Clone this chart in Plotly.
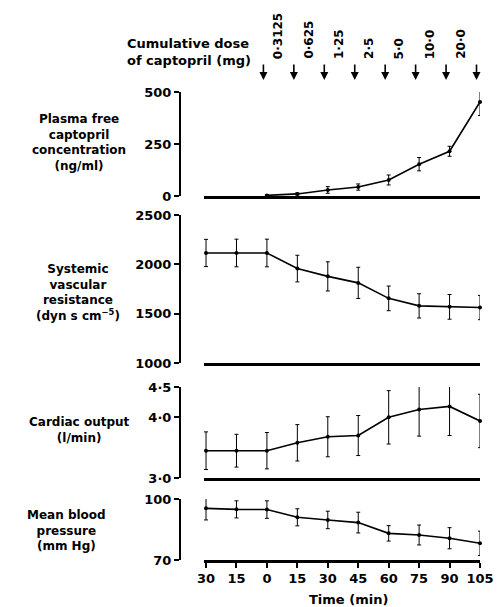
import plotly.graph_objects as go

W, H = 497, 607

# ---------------- data ----------------
time = [-30, -15, 0, 15, 30, 45, 60, 75, 90, 105]
time_labels = ["30", "15", "0", "15", "30", "45", "60", "75", "90", "105"]

capto_time = [0, 15, 30, 45, 60, 75, 90, 105]
capto = [3, 10, 29, 43, 77, 153, 215, 452]
capto_err = [3, 5, 16, 15, 24, 32, 24, 65]

svr = [2115, 2115, 2115, 1957, 1878, 1812, 1655, 1579, 1569, 1562]
svr_err = [138, 140, 140, 135, 148, 158, 125, 123, 125, 123]

co = [3.45, 3.45, 3.45, 3.58, 3.68, 3.70, 4.00, 4.13, 4.18, 3.94]
co_err = [0.31, 0.27, 0.30, 0.30, 0.33, 0.33, 0.44, 0.44, 0.48, 0.44]

mbp = [95.4, 94.9, 94.8, 91.0, 89.7, 88.4, 83.1, 82.3, 80.7, 78.2]
mbp_err = [5.7, 4.2, 4.3, 4.2, 4.3, 5.1, 3.8, 4.9, 5.2, 6.0]

dose_times = [0, 15, 30, 45, 60, 75, 90, 105]
dose_labels = ["0·3125", "0·625", "1·25", "2·5", "5·0", "10·0", "20·0"]
dose_label_times = [7.5, 22.5, 37.5, 52.5, 67.5, 82.5, 97.5]

# ---------------- helpers ----------------
def px(x):
    return x / W

def py(y):
    return (H - y) / H

FONT = "DejaVu Sans"
BOLD = dict(family=FONT, size=13, color="black", weight="bold")

fig = go.Figure()

panels = [
    ("y", "x2", capto_time, capto, capto_err),
    ("y2", "x3", time, svr, svr_err),
    ("y3", "x4", time, co, co_err),
    ("y4", "x", time, mbp, mbp_err),
]
for ya, xa, xs, ys, es in panels:
    fig.add_trace(go.Scatter(
        x=xs, y=ys, xaxis=xa, yaxis=ya, mode="lines+markers",
        line=dict(color="black", width=1.6),
        marker=dict(color="black", size=4),
        error_y=dict(type="data", array=es, visible=True, color="black",
                     thickness=1, width=2),
        cliponaxis=False, showlegend=False,
    ))

xdom = [px(204), px(480)]
xrange_ = [-31, 105]
yaxis_x = px(180)

common_y = dict(showgrid=False, zeroline=False, showline=True, linecolor="black",
                linewidth=2, ticks="outside", ticklen=5, tickwidth=2,
                tickcolor="black", tickfont=BOLD, anchor="free",
                position=yaxis_x, fixedrange=True, automargin=False)

layout = dict(
    template="none",
    width=W, height=H,
    margin=dict(l=0, r=0, t=0, b=0, autoexpand=False),
    paper_bgcolor="white", plot_bgcolor="white",
    font=BOLD, showlegend=False,
    xaxis=dict(domain=xdom, range=xrange_, anchor="y4", automargin=False,
               showgrid=False, zeroline=False, showline=True, linecolor="black",
               linewidth=2.5, ticks="outside", ticklen=5, tickwidth=2,
               tickcolor="black", tickvals=time, ticktext=time_labels,
               tickfont=dict(family=FONT, size=13, color="black", weight="bold"),
               fixedrange=True),
    yaxis=dict(domain=[py(196), py(92)], range=[0, 500],
               tickvals=[0, 250, 500], ticktext=["0", "250", "500"], **common_y),
    yaxis2=dict(domain=[py(363), py(215)], range=[1000, 2500],
                tickvals=[1000, 1500, 2000, 2500],
                ticktext=["1000", "1500", "2000", "2500"], **common_y),
    yaxis3=dict(domain=[py(478), py(387)], range=[3, 4.5],
                tickvals=[3, 4, 4.5], ticktext=["3·0", "4·0", "4·5"], **common_y),
    yaxis4=dict(domain=[py(560), py(499)], range=[70, 100],
                tickvals=[70, 100], ticktext=["70", "100"], **common_y),
)
for i, ya in zip(["2", "3", "4"], ["y", "y2", "y3"]):
    layout["xaxis" + i] = dict(domain=xdom, range=xrange_, anchor=ya, automargin=False,
                               matches="x", showgrid=False, zeroline=False,
                               showline=True, linecolor="black", linewidth=2.5,
                               showticklabels=False, ticks="", fixedrange=True)
fig.update_layout(**layout)

LABEL = dict(family=FONT, size=12, color="black", weight="bold")
annotations = []

def label(text, x, y, size=12):
    annotations.append(dict(text=text, x=px(x), y=py(y), xref="paper", yref="paper",
                            showarrow=False,
                            font=dict(family=FONT, size=size, color="black", weight="bold"),
                            align="center", xanchor="center", yanchor="middle"))

label("Plasma free<br>captopril<br>concentration<br>(ng/ml)", 79, 143)
label("Systemic<br>vascular<br>resistance<br>(dyn s cm<sup>−5</sup>)", 78, 292)
label("Cardiac output<br>(l/min)", 79, 430)
label("Mean blood<br>pressure<br>(mm Hg)", 66, 530)
label("Time (min)", 348, 599, size=13)

annotations.append(dict(text="Cumulative dose<br>of captopril (mg)", x=px(125), y=py(52),
                        xref="paper", yref="paper", showarrow=False,
                        font=dict(family=FONT, size=13, color="black", weight="bold"),
                        align="left", xanchor="left", yanchor="middle"))

for t, lab in zip(dose_label_times, dose_labels):
    annotations.append(dict(text=lab, x=t, y=py(61), xref="x", yref="paper",
                            xshift=-4, showarrow=False, textangle=-90,
                            font=dict(family=FONT, size=12, color="black", weight="bold"),
                            xanchor="center", yanchor="bottom"))

for t in dose_times:
    annotations.append(dict(text="", x=t, y=py(80), xref="x", yref="paper",
                            xshift=-3.5, showarrow=True, arrowhead=2, arrowsize=1,
                            arrowwidth=1.6, arrowcolor="black", ax=0, ay=-17))

fig.update_layout(annotations=annotations)
fig.write_html("out.html",
               config={"displayModeBar": False, "staticPlot": True},
               post_script="document.body.style.margin='0';"
                           "document.body.style.overflow='hidden';")
